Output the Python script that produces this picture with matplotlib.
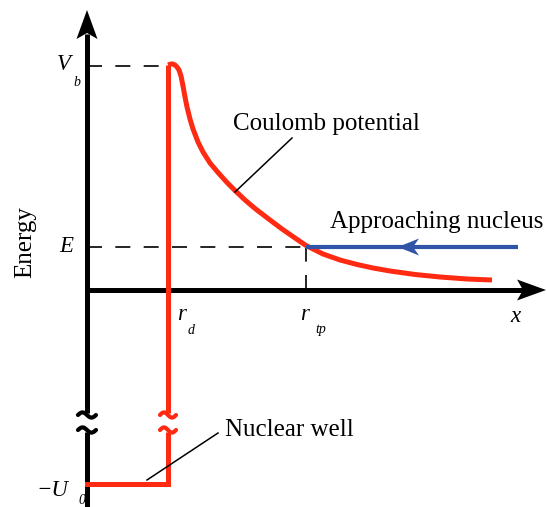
import numpy as np
import matplotlib
matplotlib.use("Agg")
import matplotlib.pyplot as plt
from matplotlib.patches import Polygon

# ---- data (x: distance from origin, y: energy; arbitrary units) ----
V_b = 224
E_level = 43
U0 = -194
r_d = 81
r_tp = 219

coulomb_r = [81, 84, 86, 88, 90, 92, 94, 96, 98, 100, 103, 106, 111, 116,
             123, 131, 140, 148, 158, 168, 181, 195, 208, 219, 236, 253, 270,
             286, 303, 328, 353, 380, 405]
coulomb_V = [225, 226, 226, 225, 223, 220, 214, 204, 193, 183, 171, 161,
             148, 138, 127, 117.5, 107.5, 99.5, 90, 81.5, 71.5, 61, 52, 44.5,
             36, 30, 25.5, 22, 19, 15.5, 13, 11, 10]

approach_x = [219, 431]
approach_y = [E_level, E_level]

well_x = [0, r_d]
well_y = [U0, U0]

break_top = -125
break_bot = -140

labels = {"coulomb": "Coulomb potential", "approach": "Approaching nucleus",
          "well": "Nuclear well", "energy": "Energy"}

RED = "#ff2a12"
BLUE = "#2f54a8"
SERIF = ["Liberation Serif", "DejaVu Serif"]

fig = plt.figure(figsize=(5.47, 5.07), dpi=100)
ax = fig.add_axes([0, 0, 1, 1])
ax.set_xlim(-87, 460)
ax.set_ylim(-217, 290)
ax.axis("off")

AX_LW = 3.6
# y axis (with break)
ax.plot([0, 0], [256, break_top + 2], color="black", lw=AX_LW, solid_capstyle="butt")
ax.plot([0, 0], [break_bot - 2, -217], color="black", lw=AX_LW, solid_capstyle="butt")
# x axis
ax.plot([0, 436], [0, 0], color="black", lw=AX_LW, solid_capstyle="butt")
# arrowheads
ax.add_patch(Polygon([[0, 280], [10.5, 251], [0, 257], [-10.5, 251]],
                     closed=True, color="black", lw=0))
ax.add_patch(Polygon([[459, 0], [430, 10.5], [436, 0], [430, -10.5]],
                     closed=True, color="black", lw=0))

# break tildes
def tilde(xc, yc, color, half=9, amp=2.6, lw=3.0):
    t = np.linspace(-1, 1, 40)
    ax.plot(xc + half * t, yc + amp * np.sin(np.pi * t) * -1, color=color,
            lw=lw, solid_capstyle="round")

tilde(0, break_top, "black")
tilde(0, break_bot, "black")
tilde(r_d, break_top, RED, half=8)
tilde(r_d, break_bot, RED, half=8)

# dashed guides
DASH = dict(color="black", lw=1.2, dashes=(9, 8))
ax.plot([0, r_d], [V_b, V_b], **DASH)
ax.plot([0, r_tp], [E_level, E_level], **DASH)
ax.plot([r_tp, r_tp], [0, E_level], color="black", lw=1.2, dashes=(9, 8))

# red potential
ax.plot(coulomb_r, coulomb_V, color=RED, lw=3.6, solid_capstyle="butt",
        solid_joinstyle="round")
ax.plot([r_d, r_d], [coulomb_V[0], break_top + 2], color=RED, lw=3.6,
        solid_capstyle="butt")
ax.plot([r_d, r_d], [break_bot - 2, U0], color=RED, lw=3.6, solid_capstyle="butt")
ax.plot(well_x, well_y, color=RED, lw=3.6, solid_capstyle="projecting")

# blue approach arrow
ax.plot(approach_x, approach_y, color=BLUE, lw=3.0, solid_capstyle="butt")
ax.add_patch(Polygon([[311, E_level], [332, E_level + 8.5], [326, E_level],
                      [332, E_level - 8.5]], closed=True, color=BLUE, lw=0))

# leader lines
ax.plot([148, 205], [98, 152], color="black", lw=1.1)
ax.plot([60, 131], [-190, -143], color="black", lw=1.1)

# texts
FS = 18
ax.text(146, 166, labels["coulomb"], fontsize=FS, family=SERIF, va="center", ha="left")
ax.text(243, 68, labels["approach"], fontsize=FS, family=SERIF, va="center", ha="left")
ax.text(138, -140, labels["well"], fontsize=FS, family=SERIF, va="center", ha="left")
ax.text(-62, 48, labels["energy"], fontsize=FS, family=SERIF, va="center", ha="center",
        rotation=90)

IT = dict(family=SERIF, style="italic", fontsize=16.5)
SUB = dict(family=SERIF, style="italic", fontsize=10)
ax.text(-23, 225, "V", ha="center", va="center", **IT)
ax.text(-10, 207, "b", ha="center", va="center", **SUB)
ax.text(-21, 43, "E", ha="center", va="center", **IT)
ax.text(-35, -200, "\u2212U", ha="center", va="center", **IT)
ax.text(-5, -211, "0", ha="center", va="center", **SUB)
ax.text(95, -24, "r", ha="center", va="center", **IT)
ax.text(104, -40, "d", ha="center", va="center", **SUB)
ax.text(218, -24, "r", ha="center", va="center", **IT)
ax.text(234, -39, "tp", ha="center", va="center", **SUB)
ax.text(428, -26, "x", ha="center", va="center", **IT)

fig.savefig("out.png", dpi=100)
